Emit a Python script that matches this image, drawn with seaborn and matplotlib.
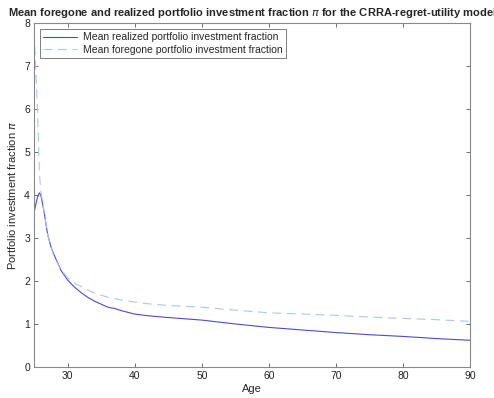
import matplotlib
matplotlib.use("Agg")
import matplotlib.pyplot as plt
import seaborn as sns
import pandas as pd

age = [25, 25.5, 25.8, 26, 26.5, 27, 27.5, 28, 29, 30, 31, 32, 33, 34, 35, 36, 37,
       38, 40, 42, 45, 50, 55, 60, 65, 70, 75, 80, 85, 90]
realized = [3.6, 3.95, 4.05, 4.0, 3.6, 3.1, 2.8, 2.6, 2.25, 2.02, 1.86, 1.73, 1.62,
            1.53, 1.46, 1.39, 1.36, 1.31, 1.23, 1.19, 1.15, 1.09, 1.0, 0.92, 0.86,
            0.8, 0.75, 0.71, 0.66, 0.62]
foregone = [7.8, 6.0, 4.5, 4.1, 3.6, 3.1, 2.8, 2.55, 2.27, 2.07, 1.96, 1.87, 1.79,
            1.72, 1.67, 1.62, 1.59, 1.56, 1.51, 1.47, 1.43, 1.39, 1.32, 1.26, 1.23,
            1.2, 1.16, 1.13, 1.1, 1.06]
xticks = [30, 40, 50, 60, 70, 80, 90]
yticks = [0, 1, 2, 3, 4, 5, 6, 7, 8]

sns.set_theme(style="white")
plt.rcParams['font.family'] = ['Liberation Sans', 'DejaVu Sans']

fig = plt.figure(figsize=(4.94, 3.98), dpi=100)
ax = fig.add_axes([0.069, 0.078, 0.883, 0.864])

df_r = pd.DataFrame({"Age": age, "v": realized})
df_f = pd.DataFrame({"Age": age, "v": foregone})
sns.lineplot(data=df_r, x="Age", y="v", ax=ax, color="#4a4ad8", lw=0.8,
             label="Mean realized portfolio investment fraction")
sns.lineplot(data=df_f, x="Age", y="v", ax=ax, color="#a8c8ee", lw=0.8,
             linestyle="--",
             label="Mean foregone portfolio investment fraction")
ax.lines[1].set_dashes((8, 5))

ax.set_xlim(25, 90)
ax.set_ylim(0, 8)
ax.set_xticks(xticks)
ax.set_yticks(yticks)
ax.tick_params(direction="in", length=3, width=0.6, color="#555555",
               labelsize=7.5, labelcolor="#222222", top=True, right=True,
               bottom=True, left=True, pad=3)
for s in ax.spines.values():
    s.set_color("#888888")
    s.set_linewidth(0.8)
ax.set_xlabel("Age", fontsize=8, labelpad=2)
ax.set_ylabel("Portfolio investment fraction $\\pi$", fontsize=8, labelpad=4)
ax.set_title("Mean foregone and realized portfolio investment fraction $\\pi$ for the CRRA-regret-utility model",
             fontsize=8, fontweight="bold", pad=5)
leg = ax.legend(loc="upper left", fontsize=7.5, frameon=True, fancybox=False,
                edgecolor="#444444", borderpad=0.3, labelspacing=0.2,
                handlelength=3.2, handletextpad=0.6, borderaxespad=0.6)
leg.get_frame().set_linewidth(0.6)

fig.savefig("out.png", dpi=100)
